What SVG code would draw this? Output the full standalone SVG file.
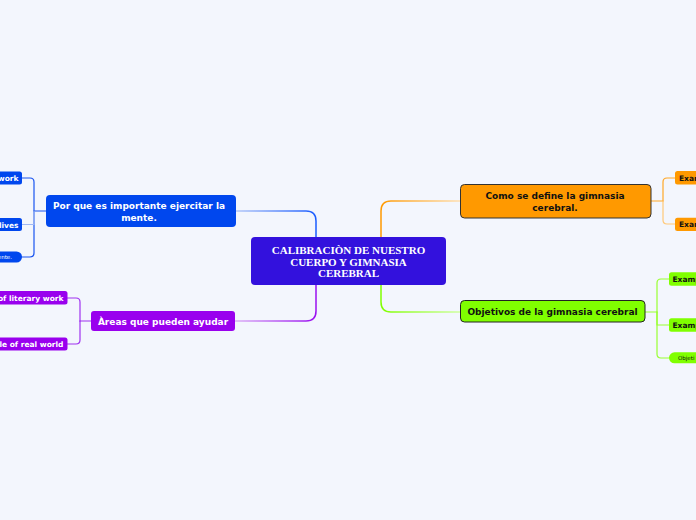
<svg xmlns="http://www.w3.org/2000/svg" width="696" height="520" viewBox="0 0 696 520">
<style>
.main{font-family:"DejaVu Sans",Verdana,sans-serif;font-weight:bold;font-size:9px;text-anchor:middle}
.child{font-family:"DejaVu Sans",Verdana,sans-serif;font-weight:bold;font-size:7.5px}
.pill{font-family:"DejaVu Sans",Verdana,sans-serif;font-size:5.5px}
.cen{font-family:"Liberation Serif","Times New Roman",serif;font-weight:bold;font-size:11px;fill:#fff;text-anchor:middle}
.w{fill:#fff}
.k{fill:#111}
path{fill:none;stroke-linecap:round;stroke-linejoin:round}
</style>
<defs>
<linearGradient id="gB" gradientUnits="userSpaceOnUse" x1="236" y1="0" x2="316" y2="0"><stop offset="0" stop-color="#b4c8f8"/><stop offset="1" stop-color="#1a5cff"/></linearGradient>
<linearGradient id="gP" gradientUnits="userSpaceOnUse" x1="235" y1="0" x2="316" y2="0"><stop offset="0" stop-color="#dcb0f6"/><stop offset="1" stop-color="#9a10f0"/></linearGradient>
<linearGradient id="gO" gradientUnits="userSpaceOnUse" x1="460" y1="0" x2="381" y2="0"><stop offset="0" stop-color="#ffdfb0"/><stop offset="1" stop-color="#ff9900"/></linearGradient>
<linearGradient id="gG" gradientUnits="userSpaceOnUse" x1="460" y1="0" x2="381" y2="0"><stop offset="0" stop-color="#d0ffa0"/><stop offset="1" stop-color="#80ff00"/></linearGradient>
</defs>
<rect width="696" height="520" fill="#F3F6FD"/>
<g id="connectors">
<path d="M236,211 H306 Q316,211 316,221 V237" stroke="url(#gB)" stroke-width="1.5"/>
<path d="M235,321 H306 Q316,321 316,311 V285" stroke="url(#gP)" stroke-width="1.5"/>
<path d="M460,201 H391 Q381,201 381,211 V237" stroke="url(#gO)" stroke-width="1.5"/>
<path d="M460,312 H391 Q381,312 381,302 V285" stroke="url(#gG)" stroke-width="1.5"/>
<g stroke="#1a55f0" stroke-width="1.2">
<path d="M46,211 H34"/>
<path d="M34,211 V182 Q34,178 30,178 H22"/>
<path d="M34,211 V253 Q34,257 30,257 H22"/>
<path d="M34,211 V224.5 H22" stroke="#9fb8f4"/>
</g>
<g stroke="#a033f0" stroke-width="1.2">
<path d="M91,321 H80"/>
<path d="M80,321 V302 Q80,298 76,298 H67"/>
<path d="M80,321 V340 Q80,344 76,344 H67"/>
</g>
<g stroke="#ffa828" stroke-width="1.2">
<path d="M651,201 H663"/>
<path d="M663,201 V182 Q663,178 667,178 H675"/>
<path d="M663,201 V220 Q663,224 667,224 H675" stroke="#ffc878"/>
</g>
<g stroke="#99ff33" stroke-width="1.2">
<path d="M645,312 H657"/>
<path d="M657,312 V283 Q657,279 661,279 H669"/>
<path d="M657,312 V325 H669"/>
<path d="M657,312 V354 Q657,358 661,358 H669"/>
</g>
</g>
<g id="central">
<rect x="251" y="237" width="195" height="48" rx="4" fill="#3311DD"/>
<text class="cen" x="348.5" y="254">CALIBRACIÒN DE NUESTRO</text>
<text class="cen" x="348.5" y="265.5">CUERPO Y GIMNASIA</text>
<text class="cen" x="348.5" y="277">CEREBRAL</text>
</g>
<g id="n-por-que">
<rect x="46" y="195" width="190" height="32" rx="4" fill="#0047EE"/>
<text class="main w" x="139" y="209">Por que es importante ejercitar la</text>
<text class="main w" x="139" y="220.5">mente.</text>
</g>
<g id="n-areas">
<rect x="91" y="311" width="144" height="20" rx="3" fill="#9900EE"/>
<text class="main w" x="163" y="324.5">Àreas que pueden ayudar</text>
</g>
<g id="n-como">
<rect x="460.5" y="184.5" width="190.5" height="33.5" rx="4" fill="#FF9900" stroke="#333" stroke-width="1"/>
<text class="main k" x="555" y="199">Como se define la gimnasia</text>
<text class="main k" x="555" y="210.5">cerebral.</text>
</g>
<g id="n-objetivos">
<rect x="460.5" y="300.5" width="184.5" height="21.5" rx="4" fill="#80FF00" stroke="#222" stroke-width="1"/>
<text class="main k" x="552.5" y="314.5">Objetivos de la gimnasia cerebral</text>
</g>
<g id="c-b1">
<rect x="-10" y="171.5" width="32" height="13" rx="2.5" fill="#0047EE"/>
<text class="child w" x="18.5" y="181" text-anchor="end">work</text>
</g>
<g id="c-b2">
<rect x="-10" y="218" width="32" height="13" rx="2.5" fill="#0047EE"/>
<text class="child w" x="18.5" y="227.5" text-anchor="end">lives</text>
</g>
<g id="c-b3">
<rect x="-10" y="251.5" width="32" height="11" rx="5.5" fill="#0047EE"/>
<text class="pill w" x="12" y="259" text-anchor="end">ente.</text>
</g>
<g id="c-p1">
<rect x="-10" y="291" width="77.5" height="13.5" rx="2.5" fill="#9900EE"/>
<text class="child w" x="63.5" y="300.5" text-anchor="end">of literary work</text>
</g>
<g id="c-p2">
<rect x="-10" y="337.5" width="77.5" height="13" rx="2.5" fill="#9900EE"/>
<text class="child w" x="63.5" y="347" text-anchor="end">ple of real world</text>
</g>
<g id="c-o1">
<rect x="675" y="171" width="40" height="13.5" rx="2.5" fill="#FF9900"/>
<text class="child k" x="679" y="180.5">Exam</text>
</g>
<g id="c-o2">
<rect x="675" y="217.7" width="40" height="13.3" rx="2.5" fill="#FF9900"/>
<text class="child k" x="679" y="227.3">Exam</text>
</g>
<g id="c-g1">
<rect x="669" y="272.3" width="40" height="13.4" rx="2.5" fill="#80FF00"/>
<text class="child k" x="672.5" y="282">Examp</text>
</g>
<g id="c-g2">
<rect x="669" y="318.3" width="40" height="13.4" rx="2.5" fill="#80FF00"/>
<text class="child k" x="672.5" y="328">Examp</text>
</g>
<g id="c-g3">
<rect x="669" y="352.3" width="40" height="11" rx="5.5" fill="#80FF00"/>
<text class="pill k" x="678" y="360">Objeti</text>
</g>
</svg>
